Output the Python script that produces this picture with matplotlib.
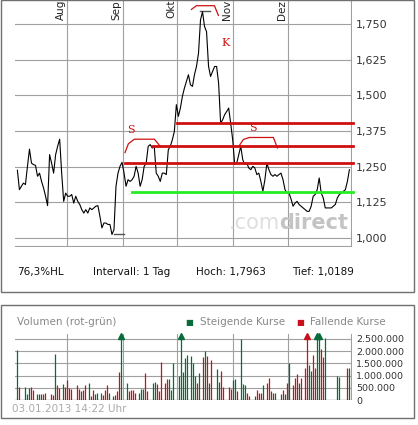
import matplotlib
matplotlib.use("Agg")
import matplotlib.pyplot as plt
import numpy as np
from matplotlib.patches import Rectangle

W, H = 418, 425
price = [1.237,1.169,1.181,1.192,1.187,1.251,1.311,1.262,1.257,1.254,
1.216,1.227,1.198,1.175,1.146,1.113,1.292,1.262,1.227,1.292,
1.321,1.346,1.227,1.128,1.157,1.146,1.146,1.152,1.122,1.146,
1.128,1.117,1.099,1.087,1.099,1.087,1.105,1.099,1.105,1.111,
1.113,1.076,1.035,1.052,1.052,1.047,1.047,1.012,1.029,1.181,
1.227,1.251,1.265,1.227,1.181,1.204,1.198,1.204,1.216,1.251,
1.227,1.181,1.204,1.251,1.262,1.321,1.327,1.315,1.321,1.227,
1.216,1.198,1.227,1.227,1.222,1.309,1.321,1.344,1.373,1.467,
1.426,1.455,1.496,1.525,1.548,1.572,1.537,1.531,1.572,1.601,
1.647,1.764,1.793,1.741,1.723,1.601,1.566,1.583,1.601,1.601,
1.542,1.402,1.414,1.432,1.443,1.455,1.402,1.344,1.257,1.262,
1.292,1.321,1.274,1.257,1.262,1.245,1.239,1.251,1.245,1.222,
1.227,1.198,1.163,1.204,1.262,1.239,1.222,1.216,1.222,1.216,
1.222,1.227,1.204,1.169,1.157,1.157,1.136,1.111,1.122,1.128,
1.117,1.111,1.105,1.099,1.093,1.093,1.111,1.146,1.152,1.169,
1.210,1.157,1.140,1.105,1.105,1.105,1.105,1.111,1.117,1.140,
1.152,1.157,1.163,1.169,1.198,1.239]
months = ["Aug", "Sep", "Okt", "Nov", "Dez"]
month_pos = [24.7, 52.7, 80.0, 108.0, 135.5]
yticks = [1.0, 1.125, 1.25, 1.375, 1.5, 1.625, 1.75]
ylabels = ["1,000", "1,125", "1,250", "1,375", "1,500", "1,625", "1,750"]
red_levels = [1.402, 1.323, 1.263]
red_start = [80.0, 67.2, 53.8]
green_level = 1.160
green_start = 57.2

vol_day = [0,1,4,5,6,7,8,10,11,12,13,14,17,18,19,20,21,23,24,25,26,27,30,31,32,33,34,36,37,38,39,40,
42,43,44,45,46,48,49,50,51,52,55,56,57,58,59,61,62,63,64,65,68,69,70,71,72,74,75,76,77,78,
81,82,83,84,85,87,88,89,90,91,93,94,95,96,97,100,101,102,103,106,107,108,109,110,112,113,114,115,116,
119,120,121,122,123,125,126,127,128,129,132,133,134,135,136,138,139,140,141,142,144,145,146,147,148,
149,150,151,152,153,154,160,161,165,166]
vol = [2.05,0.55,0.55,0.25,0.5,0.55,0.4,0.25,0.25,0.25,0.25,0.28,0.25,0.2,1.9,0.6,0.5,0.65,0.55,0.8,0.5,0.45,
0.6,0.45,0.35,0.4,0.6,0.7,0.15,0.4,0.25,0.3,0.3,0.2,0.4,0.6,0.3,0.15,0.2,0.35,1.15,2.7,0.7,0.35,0.4,0.4,0.3,
0.3,0.45,0.45,1.1,0.35,0.7,0.75,0.65,0.35,1.55,0.7,0.85,0.85,0.4,1.5,1.0,2.7,1.15,1.7,1.85,1.8,1.5,1.0,0.7,
1.1,1.75,2.0,1.8,0.7,1.65,1.25,0.75,1.2,0.55,0.55,0.45,0.8,0.85,0.35,2.5,0.65,0.6,0.3,0.15,0.15,0.4,0.3,0.3,
0.6,0.7,0.9,0.35,0.3,0.3,0.25,0.4,0.25,0.7,1.5,0.6,0.9,1.05,0.7,0.9,1.3,2.7,1.45,1.2,1.85,1.3,2.7,2.7,2.1,1.75,
2.55,1.0,0.95,1.3,1.3]
vol_col = ("grgggrrggrgrrrgrrgrrrrrrgrrgrrgggrrrggrrrg"
           "grrrrgggrrggrrrrrgggggggggggrgrgrgrggrrrrgg"
           "rgggrrgrrrgrrgrggrgrgrrrgrrrggrrggrrgggr")
vol_col = (vol_col + "g" * len(vol))[:len(vol)]

GREEN = "#0a6b3a"; RED = "#c8101a"; GRID = "#a0a0a0"

fig = plt.figure(figsize=(W/100, H/100), dpi=100)
def fx(px): return px / W
def fy(py): return 1 - py / H

fig.patches.append(Rectangle((fx(1), fy(292)), fx(413), 292/H, fill=False, ec="#707070", lw=1, transform=fig.transFigure))
fig.patches.append(Rectangle((fx(1), fy(418)), fx(413), 113/H, fill=False, ec="#707070", lw=1, transform=fig.transFigure))

ax = fig.add_axes([fx(15), fy(247), fx(337), 247/H])
n = len(price)
x = np.linspace(0, 166, n)
for s in ax.spines.values(): s.set_visible(False)
ax.set_xlim(-1.2, 167.3)
ax.set_ylim(0.968, 1.834)
for yv in yticks:
    ax.axhline(yv, color=GRID, lw=0.8, zorder=0)
ax.axhline(0.968, color=GRID, lw=1.5, zorder=0)
for mp, m in zip(month_pos, months):
    ax.axvline(mp, color=GRID, lw=0.8, zorder=0)
    ax.text(mp - 0.6, 1.834, m, rotation=90, ha="right", va="top", fontsize=7.5, color="#222222")
ax.axvline(166.6, color=GRID, lw=0.8, zorder=0)
ax.plot(x, price, color="black", lw=0.8, zorder=3)
for lv, st in zip(red_levels, red_start):
    ax.plot([st, 168], [lv, lv], color="#d01010", lw=2, zorder=4, clip_on=False)
ax.plot([green_start, 168], [green_level, green_level], color="#22ee22", lw=2, zorder=4, clip_on=False)
ax.plot([48.5, 53.5], [1.012, 1.012], color="#555555", lw=1)
ax.plot([91.5, 96.5], [1.797, 1.797], color="#555555", lw=1)
ax.plot([53.8, 55.5, 58.5, 68.5, 71.5], [1.299, 1.330, 1.346, 1.346, 1.320], color="#d01010", lw=0.9)
ax.plot([111, 113, 116, 128, 130], [1.324, 1.345, 1.352, 1.352, 1.315], color="#d01010", lw=0.9)
ax.plot([87, 89.5, 98.5, 100.5], [1.801, 1.814, 1.814, 1.780], color="#d01010", lw=0.9)
ax.text(56.8, 1.378, "S", color="#d01010", fontsize=8, family="DejaVu Serif", ha="center", va="center")
ax.text(117.7, 1.386, "S", color="#d01010", fontsize=8, family="DejaVu Serif", ha="center", va="center")
ax.text(104, 1.682, "K", color="#d01010", fontsize=8, family="DejaVu Serif", ha="center", va="center")
ax.text(131, 1.052, ".com", color="#dedede", fontsize=15, ha="right", va="center", zorder=1)
ax.text(131, 1.052, "direct", color="#c4c4c4", fontsize=15, ha="left", va="center", zorder=1, fontweight="bold")
ax.set_xticks([]); ax.set_yticks(yticks)
ax.set_yticklabels(ylabels, fontsize=8, color="#333333")
ax.yaxis.tick_right(); ax.tick_params(axis="y", length=0, pad=3)

for px, t in [(17, "76,3%HL"), (93, "Intervall: 1 Tag"), (196, "Hoch: 1,7963"), (292, "Tief: 1,0189")]:
    fig.text(fx(px), fy(272), t, fontsize=7.5, va="center", color="#111111")

av = fig.add_axes([fx(15), fy(400), fx(337), 66/H])
for s in av.spines.values(): s.set_visible(False)
av.set_xlim(-1.2, 167.3); av.set_ylim(0, 2.7)
for yv in [0.5, 1.0, 1.5, 2.0, 2.5]:
    av.axhline(yv, color=GRID, lw=0.8, zorder=0)
av.axhline(0, color="#888888", lw=1, zorder=0)
for mp in month_pos + [166.6]:
    av.axvline(mp, color=GRID, lw=0.8, zorder=0)
cols = [GREEN if c == "g" else RED for c in vol_col]
av.vlines(vol_day, 0, np.minimum(vol, 2.65), colors=cols, lw=0.9, zorder=3)
for d, v, c in zip(vol_day, vol, cols):
    if v >= 2.7:
        av.plot(d, 2.6, marker="^", color=c, ms=4, zorder=4, clip_on=False)
av.set_xticks([]); av.set_yticks([0, 0.5, 1, 1.5, 2, 2.5])
av.set_yticklabels(["0", "500.000", "1.000.000", "1.500.000", "2.000.000", "2.500.000"], fontsize=6.8, color="#333333")
av.yaxis.tick_right(); av.tick_params(axis="y", length=0, pad=3)

fig.text(fx(17), fy(322), "Volumen (rot-grün)", fontsize=7.5, color="#888888", va="center")
fig.text(fx(185), fy(322), "■", fontsize=6, color=GREEN, va="center")
fig.text(fx(200), fy(322), "Steigende Kurse", fontsize=7.5, color="#888888", va="center")
fig.text(fx(296), fy(322), "■", fontsize=6, color=RED, va="center")
fig.text(fx(310), fy(322), "Fallende Kurse", fontsize=7.5, color="#888888", va="center")
fig.text(fx(12), fy(409), "03.01.2013 14:22 Uhr", fontsize=7.5, color="#aaaaaa", va="center")

fig.savefig("out.png", dpi=100, facecolor="white")
